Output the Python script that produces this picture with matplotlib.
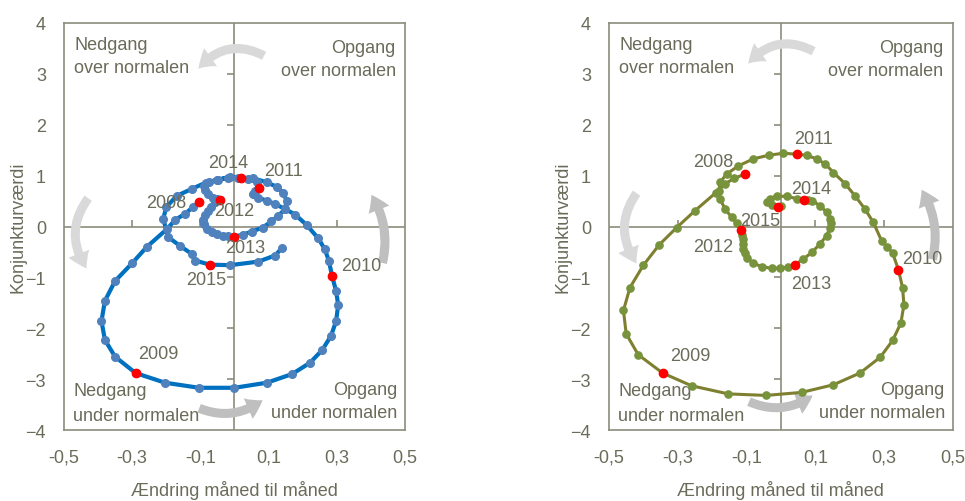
import matplotlib
matplotlib.use("Agg")
import matplotlib.pyplot as plt
from matplotlib.patches import FancyArrowPatch
import numpy as np

plt.rcParams['font.family'] = ['Liberation Sans Narrow', 'Liberation Sans', 'DejaVu Sans']

# monthly path, left chart (January points marked red)
left_x = [-0.104, -0.122, -0.145, -0.174, -0.198, -0.257, -0.30, -0.35, -0.38, -0.39, -0.38, -0.35,
          -0.29, -0.204, -0.104, 0.0, 0.095, 0.169, 0.221, 0.257, 0.283, 0.298, 0.304, 0.298,
          0.286, 0.277, 0.265, 0.246, 0.212, 0.178, 0.149, 0.120, 0.094, 0.068, 0.055, 0.060,
          0.073, 0.065, 0.04, 0.01, -0.02, -0.05, -0.075, -0.09, -0.087, -0.077, -0.062, -0.05,
          -0.042, -0.057, -0.068, -0.077, -0.086, -0.091, -0.089, -0.082, -0.067, -0.05, -0.035, -0.018,
          -0.002, 0.025, 0.05, 0.083, 0.108, 0.128, 0.148, 0.153, 0.143, 0.124, 0.094, 0.055,
          0.019, -0.013, -0.048, -0.085, -0.125, -0.17, -0.20, -0.209, -0.194, -0.16, -0.125, -0.115,
          -0.072, -0.013, 0.07, 0.119, 0.138]
left_y = [0.48, 0.38, 0.25, 0.13, -0.05, -0.40, -0.72, -1.07, -1.46, -1.86, -2.23, -2.56,
          -2.88, -3.07, -3.17, -3.17, -3.07, -2.90, -2.68, -2.43, -2.15, -1.86, -1.54, -1.27,
          -0.97, -0.68, -0.45, -0.235, 0.026, 0.235, 0.34, 0.44, 0.51, 0.57, 0.64, 0.70,
          0.76, 0.88, 0.93, 0.96, 0.96, 0.92, 0.87, 0.79, 0.71, 0.63, 0.57, 0.54,
          0.53, 0.475, 0.39, 0.31, 0.22, 0.13, 0.04, -0.04, -0.11, -0.15, -0.18, -0.195,
          -0.20, -0.16, -0.10, -0.02, 0.10, 0.21, 0.34, 0.51, 0.66, 0.78, 0.87, 0.95,
          0.95, 0.97, 0.92, 0.86, 0.74, 0.60, 0.38, 0.15, -0.21, -0.38, -0.54, -0.67,
          -0.75, -0.76, -0.69, -0.57, -0.43]

# monthly path, right chart
right_x = [-0.104, -0.135, -0.162, -0.19, -0.25, -0.303, -0.354, -0.40, -0.439, -0.458, -0.45, -0.415,
           -0.344, -0.26, -0.153, -0.043, 0.061, 0.153, 0.23, 0.289, 0.325, 0.349, 0.358, 0.354,
           0.342, 0.325, 0.31, 0.293, 0.269, 0.245, 0.216, 0.187, 0.153, 0.129, 0.104, 0.075,
           0.048, 0.007, -0.036, -0.08, -0.124, -0.158, -0.177, -0.18, -0.177, -0.162, -0.143, -0.128,
           -0.116, -0.112, -0.109, -0.109, -0.109, -0.104, -0.10, -0.08, -0.056, -0.027, -0.002, 0.022,
           0.041, 0.065, 0.09, 0.114, 0.133, 0.143, 0.145, 0.143, 0.133, 0.114, 0.09, 0.078,
           0.068, 0.046, 0.017, -0.012, -0.033, -0.039, -0.026, -0.009, 0.0]
right_y = [1.03, 0.95, 0.84, 0.66, 0.31, -0.02, -0.36, -0.76, -1.20, -1.65, -2.11, -2.52,
           -2.88, -3.13, -3.29, -3.32, -3.26, -3.11, -2.88, -2.57, -2.24, -1.90, -1.54, -1.20,
           -0.85, -0.52, -0.40, -0.28, 0.08, 0.34, 0.60, 0.84, 1.06, 1.23, 1.33, 1.40,
           1.42, 1.44, 1.40, 1.33, 1.19, 1.03, 0.87, 0.70, 0.54, 0.34, 0.18, 0.06,
           -0.06, -0.16, -0.25, -0.35, -0.44, -0.53, -0.61, -0.72, -0.79, -0.82, -0.82, -0.80,
           -0.75, -0.64, -0.51, -0.34, -0.18, -0.02, 0.07, 0.15, 0.28, 0.41, 0.51, 0.53,
           0.52, 0.55, 0.59, 0.60, 0.55, 0.49, 0.43, 0.38, 0.40]

years = ['2008', '2009', '2010', '2011', '2012', '2013', '2014', '2015']
left_jan = [0, 12, 24, 36, 48, 60, 72, 84]
right_jan = [0, 12, 24, 36, 48, 60, 72, 79]
left_lab = [(-0.199, 0.475), (-0.223, -2.5), (0.373, -0.76), (0.143, 1.10),
            (0.0, 0.31), (0.031, -0.41), (-0.018, 1.26), (-0.084, -1.045)]
right_lab = [(-0.197, 1.27), (-0.264, -2.54), (0.41, -0.62), (0.096, 1.72),
             (-0.198, -0.39), (0.087, -1.13), (0.087, 0.74), (-0.061, 0.11)]

TXT = '#6b6b5a'
EDGE = '#8c8c7c'
FS = 13

fig = plt.figure(figsize=(9.65, 5.02), dpi=100)
ax1 = fig.add_axes([0.0663, 0.1414, 0.3534, 0.8108])
ax2 = fig.add_axes([0.6311, 0.1414, 0.3562, 0.8108])


def draw_panel(ax, xs, ys, jan, labs, lcol, mcol, lw, ms, arrows):
    ax.set_xlim(-0.5, 0.5)
    ax.set_ylim(-4, 4)
    ax.set_xticks(np.arange(-0.5, 0.51, 0.2))
    ax.set_xticklabels(['-0,5', '-0,3', '-0,1', '0,1', '0,3', '0,5'])
    ax.set_yticks(range(-4, 5))
    ax.tick_params(length=0, labelsize=FS, colors=TXT, pad=13)
    for s in ax.spines.values():
        s.set_color(EDGE)
        s.set_linewidth(1.2)
    ax.axhline(0, color=EDGE, lw=1.2, zorder=1)
    ax.axvline(0, color=EDGE, lw=1.2, zorder=1)
    # small ticks on the zero lines
    ax.plot([0] * 6, [-3, -2, -1, 1, 2, 3], ls='none', marker=0, ms=5, mew=1.2, color=EDGE, zorder=1)
    ax.plot([-0.3, -0.1, 0.1, 0.3], [0] * 4, ls='none', marker=2, ms=5, mew=1.2, color=EDGE, zorder=1)

    for (p0, p1, rad, col) in arrows:
        ar = FancyArrowPatch(p0, p1, connectionstyle='arc3,rad=%s' % rad,
                             arrowstyle='simple,head_length=12,head_width=16,tail_width=6.5',
                             color=col, lw=0, zorder=2, clip_on=False)
        ax.add_patch(ar)

    ax.plot(xs, ys, color=lcol, lw=lw, zorder=3)
    ax.plot(xs, ys, ls='none', marker='o', ms=ms, color=mcol, zorder=4)
    ax.plot([xs[i] for i in jan], [ys[i] for i in jan], ls='none', marker='o', ms=6,
            color='#ff0000', zorder=5)
    for yr, (tx, ty) in zip(years, labs):
        ax.text(tx, ty, yr, ha='center', va='center', fontsize=FS, color=TXT, zorder=6)

    ax.text(-0.47, 3.58, 'Nedgang', ha='left', va='center', fontsize=FS, color=TXT)
    ax.text(-0.47, 3.12, 'over normalen', ha='left', va='center', fontsize=FS, color=TXT)
    ax.text(0.473, 3.52, 'Opgang', ha='right', va='center', fontsize=FS, color=TXT)
    ax.text(0.473, 3.06, 'over normalen', ha='right', va='center', fontsize=FS, color=TXT)
    ax.text(-0.473, -3.23, 'Nedgang', ha='left', va='center', fontsize=FS, color=TXT)
    ax.text(-0.473, -3.71, 'under normalen', ha='left', va='center', fontsize=FS, color=TXT)
    ax.text(0.477, -3.20, 'Opgang', ha='right', va='center', fontsize=FS, color=TXT)
    ax.text(0.477, -3.66, 'under normalen', ha='right', va='center', fontsize=FS, color=TXT)

    ax.set_xlabel('Ændring måned til måned', fontsize=FS, color=TXT, labelpad=11)
    ax.set_ylabel('Konjunkturværdi', fontsize=FS, color=TXT, labelpad=-1)


LIGHT = '#d9d9d9'
DARK = '#bfbfbf'
arrows_left = [((0.094, 3.33), (-0.111, 3.06), 0.42, LIGHT),
               ((-0.424, 0.6), (-0.429, -0.87), 0.37, LIGHT),
               ((-0.111, -3.55), (0.089, -3.38), 0.3, DARK),
               ((0.432, -0.77), (0.397, 0.67), 0.22, DARK)]
arrows_right = [((0.102, 3.42), (-0.1, 3.16), 0.42, LIGHT),
                ((-0.415, 0.70), (-0.415, -0.77), 0.37, LIGHT),
                ((-0.1, -3.42), (0.099, -3.29), 0.3, DARK),
                ((0.439, -0.70), (0.405, 0.77), 0.22, DARK)]

draw_panel(ax1, left_x, left_y, left_jan, left_lab, '#0070c0', '#4f81bd', 3.0, 5.5, arrows_left)
draw_panel(ax2, right_x, right_y, right_jan, right_lab, '#7f7f30', '#77933c', 2.2, 5.2, arrows_right)

fig.savefig('out.png', dpi=100)
